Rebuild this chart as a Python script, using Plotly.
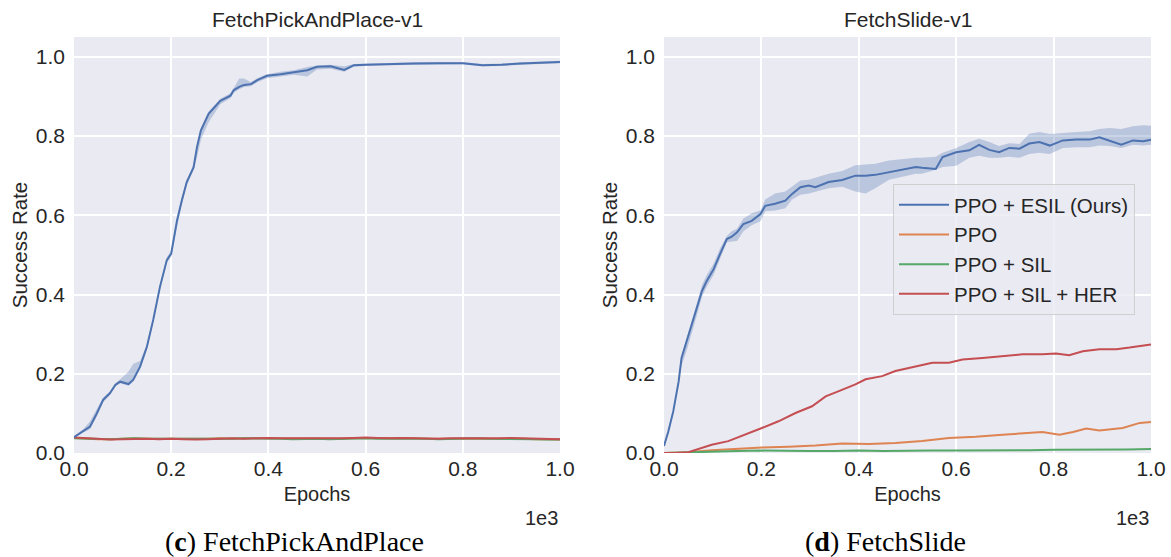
import plotly.graph_objects as go

# ---------------- data ----------------
series_names = ["PPO + ESIL (Ours)", "PPO", "PPO + SIL", "PPO + SIL + HER"]
colors = ["#4C72B0", "#DD8452", "#55A868", "#C44E52"]
band_color = "rgba(76,114,176,0.30)"

tick_vals = [0, 200, 400, 600, 800, 1000]
x_tick_text = ["0.0", "0.2", "0.4", "0.6", "0.8", "1.0"]
y_tick_vals = [0, 0.2, 0.4, 0.6, 0.8, 1.0]
y_tick_text = ["0.0", "0.2", "0.4", "0.6", "0.8", "1.0"]

# FetchPickAndPlace-v1 : PPO + ESIL
pp_esil_x = [0, 19, 33, 47, 60, 74, 85, 95, 112, 122, 136, 150, 163, 177, 191, 200, 212, 222, 232,
             246, 253, 261, 277, 301, 322, 329, 340, 350, 364, 377, 397, 425, 452, 480, 500, 528,
             556, 576, 600, 650, 700, 750, 800, 840, 880, 920, 960, 1000]
pp_esil_y = [0.040, 0.055, 0.067, 0.100, 0.134, 0.151, 0.172, 0.180, 0.174, 0.185, 0.218, 0.268,
             0.336, 0.420, 0.487, 0.503, 0.587, 0.638, 0.684, 0.721, 0.772, 0.814, 0.856, 0.889,
             0.902, 0.916, 0.924, 0.929, 0.931, 0.941, 0.952, 0.956, 0.960, 0.966, 0.975, 0.976,
             0.967, 0.979, 0.980, 0.982, 0.983, 0.984, 0.984, 0.979, 0.980, 0.983, 0.985, 0.987]
pp_esil_lo = [0.038, 0.052, 0.060, 0.092, 0.128, 0.146, 0.168, 0.176, 0.170, 0.180, 0.212, 0.262,
              0.330, 0.414, 0.480, 0.496, 0.570, 0.630, 0.676, 0.714, 0.745, 0.790, 0.835, 0.880,
              0.896, 0.910, 0.918, 0.924, 0.926, 0.936, 0.946, 0.950, 0.955, 0.950, 0.968, 0.970,
              0.962, 0.975, 0.977, 0.979, 0.980, 0.981, 0.981, 0.976, 0.977, 0.980, 0.982, 0.984]
pp_esil_hi = [0.042, 0.060, 0.080, 0.112, 0.140, 0.156, 0.176, 0.186, 0.205, 0.225, 0.232, 0.274,
              0.342, 0.426, 0.494, 0.512, 0.594, 0.646, 0.690, 0.728, 0.778, 0.820, 0.862, 0.894,
              0.908, 0.922, 0.945, 0.945, 0.936, 0.946, 0.956, 0.962, 0.966, 0.974, 0.978, 0.980,
              0.976, 0.982, 0.983, 0.985, 0.986, 0.987, 0.987, 0.982, 0.983, 0.986, 0.988, 0.990]

# FetchPickAndPlace-v1 : baselines (every 25 epochs)
pp_base_x = list(range(0, 1001, 25))
pp_ppo_y = [0.038, 0.036, 0.035, 0.035, 0.036, 0.037, 0.036, 0.036, 0.036, 0.035, 0.035, 0.036,
            0.037, 0.036, 0.037, 0.038, 0.037, 0.037, 0.036, 0.036, 0.037, 0.036, 0.036, 0.038,
            0.038, 0.037, 0.037, 0.037, 0.037, 0.036, 0.036, 0.036, 0.037, 0.037, 0.037, 0.036,
            0.037, 0.036, 0.035, 0.035, 0.034]
pp_sil_y = [0.037, 0.036, 0.036, 0.035, 0.036, 0.037, 0.036, 0.036, 0.035, 0.035, 0.036, 0.036,
            0.036, 0.036, 0.037, 0.037, 0.036, 0.036, 0.035, 0.036, 0.036, 0.035, 0.036, 0.037,
            0.037, 0.036, 0.036, 0.037, 0.036, 0.036, 0.035, 0.036, 0.036, 0.037, 0.036, 0.036,
            0.036, 0.036, 0.035, 0.034, 0.034]
pp_her_y = [0.039, 0.037, 0.035, 0.034, 0.035, 0.036, 0.036, 0.035, 0.036, 0.035, 0.034, 0.035,
            0.036, 0.037, 0.036, 0.037, 0.038, 0.037, 0.037, 0.036, 0.037, 0.036, 0.037, 0.038,
            0.039, 0.038, 0.037, 0.038, 0.037, 0.037, 0.036, 0.037, 0.037, 0.036, 0.037, 0.037,
            0.038, 0.037, 0.036, 0.035, 0.035]

# FetchSlide-v1 : PPO + ESIL
fs_esil_x = [0, 9, 19, 30, 36, 47, 57, 67, 78, 88, 102, 115, 129, 139, 150, 163, 180, 198, 208,
             228, 249, 263, 280, 297, 311, 338, 366, 393, 414, 434, 462, 489, 517, 530, 558, 572,
             600, 627, 647, 668, 688, 709, 730, 750, 771, 792, 819, 847, 874, 894, 915, 939, 963,
             984, 1000]
fs_esil_y = [0.018, 0.055, 0.105, 0.180, 0.240, 0.283, 0.325, 0.367, 0.409, 0.435, 0.464, 0.502,
             0.540, 0.546, 0.557, 0.578, 0.586, 0.603, 0.624, 0.629, 0.637, 0.654, 0.671, 0.675,
             0.671, 0.684, 0.689, 0.700, 0.700, 0.702, 0.709, 0.715, 0.722, 0.720, 0.717, 0.747,
             0.759, 0.764, 0.778, 0.765, 0.759, 0.770, 0.768, 0.781, 0.785, 0.776, 0.789, 0.791,
             0.791, 0.797, 0.789, 0.778, 0.789, 0.787, 0.791]
fs_esil_lo = [0.014, 0.050, 0.100, 0.174, 0.220, 0.260, 0.300, 0.345, 0.395, 0.420, 0.450, 0.488,
              0.532, 0.534, 0.535, 0.560, 0.575, 0.585, 0.610, 0.612, 0.618, 0.640, 0.652, 0.655,
              0.660, 0.668, 0.672, 0.660, 0.655, 0.668, 0.690, 0.698, 0.705, 0.705, 0.715, 0.722,
              0.725, 0.745, 0.750, 0.745, 0.745, 0.748, 0.745, 0.755, 0.758, 0.755, 0.770, 0.772,
              0.772, 0.776, 0.775, 0.770, 0.778, 0.776, 0.778]
fs_esil_hi = [0.022, 0.060, 0.110, 0.186, 0.246, 0.290, 0.332, 0.375, 0.424, 0.450, 0.478, 0.516,
              0.548, 0.560, 0.566, 0.592, 0.605, 0.612, 0.640, 0.655, 0.660, 0.672, 0.688, 0.690,
              0.695, 0.705, 0.712, 0.726, 0.728, 0.730, 0.738, 0.742, 0.745, 0.745, 0.748, 0.758,
              0.770, 0.785, 0.793, 0.785, 0.775, 0.782, 0.780, 0.806, 0.810, 0.805, 0.808, 0.810,
              0.812, 0.818, 0.820, 0.818, 0.825, 0.827, 0.826]

fs_her_x = [0, 25, 50, 71, 98, 132, 167, 201, 235, 270, 304, 332, 359, 393, 414, 448, 475, 510,
            551, 585, 613, 654, 695, 736, 777, 805, 832, 860, 894, 929, 956, 1000]
fs_her_y = [0.000, 0.000, 0.002, 0.011, 0.021, 0.030, 0.046, 0.063, 0.080, 0.101, 0.118, 0.143,
            0.156, 0.173, 0.186, 0.194, 0.207, 0.217, 0.228, 0.228, 0.236, 0.240, 0.245, 0.249,
            0.249, 0.251, 0.247, 0.257, 0.262, 0.262, 0.266, 0.274]

fs_ppo_x = [0, 50, 98, 146, 201, 256, 311, 366, 421, 475, 530, 585, 640, 695, 750, 777, 812, 840,
            867, 894, 942, 977, 1000]
fs_ppo_y = [0.000, 0.002, 0.007, 0.011, 0.014, 0.016, 0.019, 0.024, 0.023, 0.025, 0.030, 0.038,
            0.041, 0.046, 0.051, 0.053, 0.046, 0.053, 0.062, 0.057, 0.063, 0.076, 0.078]

fs_sil_x = [0, 50, 100, 150, 200, 250, 300, 350, 400, 450, 500, 550, 600, 650, 700, 750, 800,
            850, 900, 950, 1000]
fs_sil_y = [0.000, 0.002, 0.004, 0.005, 0.006, 0.005, 0.005, 0.005, 0.006, 0.005, 0.006, 0.006,
            0.006, 0.006, 0.007, 0.007, 0.008, 0.008, 0.008, 0.009, 0.010]

# ---------------- figure ----------------
W, H = 1171, 557
fig = go.Figure()

def band(x, lo, hi, xa, ya):
    fig.add_trace(go.Scatter(x=x, y=lo, mode="lines", line=dict(width=0), hoverinfo="skip",
                             showlegend=False, xaxis=xa, yaxis=ya))
    fig.add_trace(go.Scatter(x=x, y=hi, mode="lines", line=dict(width=0), fill="tonexty",
                             fillcolor=band_color, hoverinfo="skip", showlegend=False,
                             xaxis=xa, yaxis=ya))

def line(x, y, i, xa, ya, legend):
    fig.add_trace(go.Scatter(x=x, y=y, mode="lines", name=series_names[i],
                             line=dict(color=colors[i], width=2), showlegend=legend,
                             xaxis=xa, yaxis=ya))

# left panel
band(pp_esil_x, pp_esil_lo, pp_esil_hi, "x", "y")
line(pp_base_x, pp_ppo_y, 1, "x", "y", False)
line(pp_base_x, pp_sil_y, 2, "x", "y", False)
line(pp_base_x, pp_her_y, 3, "x", "y", False)
line(pp_esil_x, pp_esil_y, 0, "x", "y", False)

# right panel
band(fs_esil_x, fs_esil_lo, fs_esil_hi, "x2", "y2")
line(fs_esil_x, fs_esil_y, 0, "x2", "y2", True)
line(fs_ppo_x, fs_ppo_y, 1, "x2", "y2", True)
line(fs_sil_x, fs_sil_y, 2, "x2", "y2", True)
line(fs_her_x, fs_her_y, 3, "x2", "y2", True)

txt = "#262626"
base_font = dict(family="Liberation Sans, Arial, sans-serif", size=20, color=txt)

def xaxis(dom):
    return dict(domain=dom, range=[0, 1000], tickvals=tick_vals, ticktext=x_tick_text,
                showgrid=True, gridcolor="white", gridwidth=1.5, zeroline=False,
                showline=False, ticks="", ticklabelstandoff=1, automargin=False,
                tickfont=dict(size=21, color=txt),
                title=dict(text="Epochs", font=dict(size=20, color=txt), standoff=7))

def yaxis(dom, anchor):
    return dict(domain=dom, range=[0, 1.05], tickvals=y_tick_vals, ticktext=y_tick_text,
                showgrid=True, gridcolor="white", gridwidth=1.5, zeroline=False,
                showline=False, ticks="", anchor=anchor, ticklabelstandoff=8,
                automargin=False, tickfont=dict(size=21, color=txt),
                title=dict(text="Success Rate", font=dict(size=20.5, color=txt), standoff=2))

ydom = [1 - 453 / H, 1 - 37 / H]
xd1 = [74 / W, 560 / W]
xd2 = [664 / W, 1151 / W]

fig.update_layout(
    width=W, height=H, margin=dict(l=0, r=0, t=0, b=0, autoexpand=False),
    paper_bgcolor="white", plot_bgcolor="#EAEAF2",
    font=base_font,
    xaxis=dict(xaxis(xd1), anchor="y"),
    yaxis=yaxis(ydom, "x"),
    xaxis2=dict(xaxis(xd2), anchor="y2"),
    yaxis2=yaxis(ydom, "x2"),
    showlegend=True,
    legend=dict(x=893 / W, y=1 - 184 / H, xanchor="left", yanchor="top",
                traceorder="normal",
                bgcolor="rgba(234,234,242,0.8)", bordercolor="rgba(204,204,204,0.9)",
                borderwidth=1, font=dict(size=20.5, color=txt), tracegroupgap=0,
                itemwidth=50),
)

# Subplot titles, exponent labels and captions
ann = []
for cx, title in [((74 + 560) / 2, "FetchPickAndPlace-v1"), ((664 + 1151) / 2, "FetchSlide-v1")]:
    ann.append(dict(x=cx / W, y=1 - 19 / H, xref="paper", yref="paper", text=title,
                    showarrow=False, xanchor="center", yanchor="middle",
                    font=dict(size=21, color=txt)))
for rx in [560, 1151]:
    ann.append(dict(x=rx / W, y=1 - 518 / H, xref="paper", yref="paper", text="1e3",
                    showarrow=False, xanchor="right", yanchor="middle",
                    font=dict(size=20, color=txt)))
for cx, lab, name in [(294, "c", "FetchPickAndPlace"), (885, "d", "FetchSlide")]:
    ann.append(dict(x=cx / W, y=1 - 541 / H, xref="paper", yref="paper",
                    text="(<b>%s</b>) %s" % (lab, name), showarrow=False,
                    xanchor="center", yanchor="middle",
                    font=dict(family="Liberation Serif, DejaVu Serif, serif", size=28,
                              color="black")))
fig.update_layout(annotations=ann)

fig.write_html("out.html", config={"displayModeBar": False},
               post_script="document.body.style.margin='0';")
